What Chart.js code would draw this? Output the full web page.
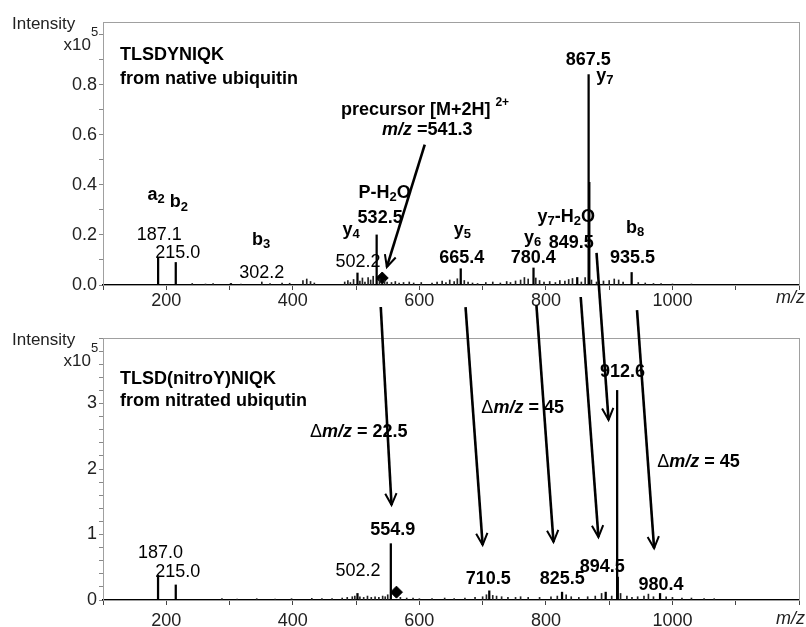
<!DOCTYPE html>
<html>
<head>
<meta charset="utf-8">
<script src="https://cdn.jsdelivr.net/npm/chart.js@4.4.1/dist/chart.umd.min.js"></script>
<style>
  body { margin: 0; background: #fff; }
  #wrap { position: relative; width: 806px; height: 627px; }
  #wrap canvas { position: absolute; left: 0; top: 0; }
</style>
</head>
<body>
<div id="wrap">
  <canvas id="spec-native" width="806" height="627"></canvas>
  <canvas id="spec-nitro" width="806" height="627"></canvas>
</div>
<script>
// m/z , intensity (x10^5)
const nativePeaks = [[187.1, 0.11], [215.0, 0.09], [302.2, 0.006], [502.2, 0.048], [532.5, 0.20],
  [665.4, 0.065], [780.4, 0.068], [849.5, 0.03], [867.5, 0.84], [868.6, 0.41], [935.5, 0.05]];
const nativeNoise = [[241, 0.006], [262, 0.004], [274, 0.006], [318, 0.004], [351, 0.012], [364, 0.006],
  [383, 0.008], [395, 0.007], [416, 0.018], [422, 0.024], [428, 0.014], [434, 0.008], [482, 0.012],
  [487, 0.018], [491, 0.010], [496, 0.022], [506, 0.016], [510, 0.028], [514, 0.012], [519, 0.03],
  [523, 0.02], [527, 0.035], [537, 0.025], [545, 0.018], [549, 0.012], [556, 0.01], [562, 0.014],
  [568, 0.008], [575, 0.01], [584, 0.012], [591, 0.008], [603, 0.01], [620, 0.008], [628, 0.012],
  [636, 0.016], [642, 0.01], [648, 0.02], [655, 0.014], [660, 0.025], [671, 0.018], [677, 0.012],
  [684, 0.008], [692, 0.006], [705, 0.01], [716, 0.012], [728, 0.008], [738, 0.014], [744, 0.01],
  [752, 0.016], [760, 0.02], [766, 0.03], [772, 0.024], [784, 0.028], [790, 0.018], [797, 0.012],
  [806, 0.014], [815, 0.01], [822, 0.018], [830, 0.016], [836, 0.022], [842, 0.026], [856, 0.012],
  [862, 0.03], [872, 0.02], [880, 0.012], [891, 0.016], [900, 0.018], [908, 0.024], [915, 0.02],
  [922, 0.012], [946, 0.01], [957, 0.008], [970, 0.006], [982, 0.006], [1000, 0.004], [1030, 0.004]];
const nativePrecursor = [541.3, 0.028];

const nitroPeaks = [[187.0, 0.38], [215.0, 0.23], [502.2, 0.10], [554.9, 0.86], [710.5, 0.14],
  [825.5, 0.12], [894.5, 0.12], [912.6, 3.2], [913.6, 0.35], [980.4, 0.10]];
const nitroNoise = [[288, 0.02], [312, 0.015], [343, 0.02], [372, 0.015], [398, 0.02], [430, 0.025],
  [446, 0.02], [462, 0.02], [478, 0.03], [486, 0.04], [494, 0.05], [498, 0.06], [506, 0.05], [512, 0.04],
  [518, 0.06], [524, 0.04], [530, 0.05], [536, 0.04], [542, 0.06], [546, 0.05], [550, 0.08], [570, 0.04],
  [580, 0.03], [590, 0.03], [600, 0.02], [620, 0.02], [640, 0.03], [655, 0.02], [672, 0.03], [688, 0.04],
  [700, 0.05], [706, 0.08], [716, 0.07], [722, 0.06], [730, 0.05], [740, 0.04], [752, 0.04], [760, 0.05],
  [772, 0.04], [790, 0.04], [808, 0.05], [818, 0.06], [832, 0.08], [840, 0.05], [852, 0.04], [866, 0.05],
  [878, 0.06], [888, 0.1], [904, 0.06], [918, 0.1], [928, 0.06], [936, 0.04], [945, 0.05], [955, 0.06],
  [962, 0.09], [970, 0.05], [990, 0.05], [1000, 0.04], [1015, 0.03], [1030, 0.03], [1050, 0.02], [1066, 0.02]];
const nitroPrecursor = [563.8, 0.12];

// tick labels
const mzTickLabels = [200, 400, 600, 800, 1000];
const nativeYLabels = ['0.0', '0.2', '0.4', '0.6', '0.8'];
const nitroYLabels = ['0', '1', '2', '3'];

// annotations: text (_ sub, ^ sup, * italic, # regular), m/z, intensity, align
const nativeNotes = [
  ['TLSDYNIQK', 127, 0.92, 'left'], ['from native ubiquitin', 127, 0.824, 'left'],
  ['precursor [M+2H] ^2+', 476, 0.70, 'left'], ['*m/z* =541.3', 541, 0.62, 'left'],
  ['867.5', 867, 0.90], ['y_7', 893, 0.836], ['a_2', 184, 0.36], ['b_2', 220, 0.33],
  ['#187.1', 189, 0.20], ['#215.0', 218, 0.128], ['b_3', 350, 0.18], ['#302.2', 351, 0.048],
  ['y_4', 492, 0.22], ['532.5', 538, 0.268], ['#502.2', 503, 0.092], ['P-H_2O', 545, 0.368],
  ['y_5', 668, 0.22], ['665.4', 667, 0.108], ['y_6', 779, 0.188], ['849.5', 840, 0.168],
  ['780.4', 780, 0.108], ['y_7-H_2O', 832, 0.272], ['b_8', 941, 0.228], ['935.5', 937, 0.108]
];
const nitroNotes = [
  ['TLSD(nitroY)NIQK', 127, 3.37, 'left'], ['from nitrated ubiqutin', 127, 3.04, 'left'],
  ['#Δ#*m/z* = 22.5', 427, 2.56, 'left'], ['#Δ#*m/z* = 45', 698, 2.93, 'left'],
  ['#Δ#*m/z* = 45', 976, 2.11, 'left'], ['912.6', 921, 3.48], ['554.9', 558, 1.07],
  ['#187.0', 191, 0.72], ['#215.0', 218, 0.43], ['#502.2', 503, 0.44], ['710.5', 709, 0.32],
  ['825.5', 826, 0.32], ['894.5', 889, 0.50], ['980.4', 982, 0.23]
];

// arrows: panel, m/z, intensity -> panel, m/z, intensity
const arrows = [
  ['n', 608.5, 0.56, 'n', 548.6, 0.072],
  ['n', 539, -0.088, 'x', 556, 1.45],
  ['n', 673, -0.088, 'x', 700, 0.84],
  ['n', 785, -0.08, 'x', 812, 0.885],
  ['n', 855, -0.048, 'x', 883, 0.96],
  ['n', 880, 0.128, 'x', 899, 2.75],
  ['n', 944, -0.1, 'x', 971, 0.79]
];

const FAM = '"Liberation Sans", Arial, Helvetica, sans-serif';
const toXY = arr => arr.map(p => ({ x: p[0], y: p[1] }));

function parseRich(str) {
  const out = [];
  let bold = true, ital = false, buf = '';
  const flush = () => { if (buf) { out.push({ t: buf, bold, ital, mode: 'n' }); buf = ''; } };
  for (let i = 0; i < str.length; i++) {
    const c = str[i];
    if (c === '_') { flush(); out.push({ t: str[i + 1], bold, ital, mode: 'sub' }); i++; }
    else if (c === '^') { flush(); out.push({ t: str.slice(i + 1), bold, ital, mode: 'sup' }); break; }
    else if (c === '*') { flush(); ital = !ital; }
    else if (c === '#') { flush(); bold = !bold; }
    else buf += c;
  }
  flush();
  return out;
}

function fontOf(p) {
  const size = p.mode === 'n' ? 18 : (p.mode === 'sub' ? 13 : 12);
  return (p.ital ? 'italic ' : '') + (p.bold ? 'bold ' : '') + size + 'px ' + FAM;
}

function drawRich(ctx, str, x, y, align) {
  const parts = parseRich(str);
  let w = 0;
  parts.forEach(p => { ctx.font = fontOf(p); p.w = ctx.measureText(p.t).width; w += p.w; });
  let cx = align === 'left' ? x : x - w / 2;
  ctx.textAlign = 'left';
  ctx.textBaseline = 'middle';
  ctx.fillStyle = '#000';
  parts.forEach(p => {
    ctx.font = fontOf(p);
    const dy = p.mode === 'sub' ? 5 : (p.mode === 'sup' ? -7 : 0);
    ctx.fillText(p.t, cx, y + dy);
    cx += p.w;
  });
}

function drawArrow(ctx, x0, y0, x1, y1) {
  const a = Math.atan2(y1 - y0, x1 - x0);
  const len = 13, spread = 0.45;
  ctx.save();
  ctx.strokeStyle = '#000';
  ctx.lineWidth = 2.6;
  ctx.lineCap = 'butt';
  ctx.beginPath();
  ctx.moveTo(x0, y0);
  ctx.lineTo(x1, y1);
  ctx.stroke();
  ctx.lineWidth = 2;
  ctx.beginPath();
  ctx.moveTo(x1 - len * Math.cos(a - spread), y1 - len * Math.sin(a - spread));
  ctx.lineTo(x1, y1);
  ctx.lineTo(x1 - len * Math.cos(a + spread), y1 - len * Math.sin(a + spread));
  ctx.stroke();
  ctx.restore();
}

function panelDecor(notes, mzLabelDy) {
  return {
    id: 'decor',
    beforeDatasetsDraw(chart) {
      const { ctx, chartArea: a } = chart;
      ctx.save();
      ctx.strokeStyle = '#a0a0a0';
      ctx.lineWidth = 1;
      ctx.strokeRect(a.left + 0.5, a.top + 0.5, a.right - a.left, a.bottom - a.top);
      ctx.restore();
    },
    afterDatasetsDraw(chart) {
      const { ctx, chartArea: a, scales } = chart;
      ctx.save();
      notes.forEach(n => drawRich(ctx, n[0], scales.x.getPixelForValue(n[1]), scales.y.getPixelForValue(n[2]), n[3]));
      // axis titles
      ctx.fillStyle = '#222';
      ctx.textBaseline = 'middle';
      ctx.font = '17px ' + FAM;
      ctx.textAlign = 'left';
      ctx.fillText('Intensity', 12, a.top + 2);
      ctx.textAlign = 'right';
      ctx.fillText('x10', 91, a.top + 23);
      ctx.font = '13px ' + FAM;
      ctx.textAlign = 'left';
      ctx.fillText('5', 91, a.top + 10);
      ctx.font = 'italic 18px ' + FAM;
      ctx.fillText('m/z', scales.x.getPixelForValue(1200) - 23, a.bottom + mzLabelDy);
      ctx.restore();
    }
  };
}

function spectrumConfig(peaks, noise, precursor, yMax, yStep, yLabels, notes, pad, xHeight, xPad, mzDy) {
  return {
    type: 'bar',
    data: {
      datasets: [
        { data: toXY(noise), backgroundColor: '#222', barThickness: 1, grouped: false },
        { data: toXY(peaks), backgroundColor: '#000', barThickness: 1.6, grouped: false },
        {
          type: 'line', data: toXY([precursor]), showLine: false,
          pointStyle: 'rectRot', pointRadius: 6, backgroundColor: '#000', borderColor: '#000'
        }
      ]
    },
    options: {
      responsive: false,
      animation: false,
      events: [],
      layout: { padding: pad },
      plugins: { legend: { display: false }, tooltip: { enabled: false } },
      scales: {
        x: {
          type: 'linear', min: 100, max: 1200, offset: false,
          afterFit: s => { s.height = xHeight; },
          grid: { drawOnChartArea: false, tickLength: 5, color: '#444', offset: false },
          border: { color: '#000', width: 1.5 },
          ticks: {
            stepSize: 100, autoSkip: false, maxRotation: 0, padding: xPad, color: '#222',
            font: { family: FAM, size: 18 },
            callback: v => mzTickLabels.includes(v) ? String(v) : ''
          }
        },
        y: {
          min: 0, max: yMax,
          afterFit: s => { s.width = 103; },
          grid: { drawOnChartArea: false, tickLength: 4, color: '#888' },
          border: { color: '#a0a0a0' },
          ticks: {
            stepSize: yStep, autoSkip: false, includeBounds: false, padding: 2, color: '#222',
            font: { family: FAM, size: 18 },
            callback: v => {
              const i = yLabels.findIndex(l => Math.abs(parseFloat(l) - v) < 1e-6);
              return i >= 0 ? yLabels[i] : '';
            }
          }
        }
      }
    },
    plugins: [panelDecor(notes, mzDy)]
  };
}

const nativeChart = new Chart(document.getElementById('spec-native'),
  spectrumConfig(nativePeaks, nativeNoise, nativePrecursor, 1.05, 0.1, nativeYLabels, nativeNotes,
    { left: 0, right: 6, top: 22, bottom: 312 }, 30, 0, 13));

const arrowLayer = {
  id: 'arrows',
  afterDraw(chart) {
    const panels = { n: nativeChart.scales, x: chart.scales };
    arrows.forEach(r => {
      const a = panels[r[0]], b = panels[r[3]];
      drawArrow(chart.ctx,
        a.x.getPixelForValue(r[1]), a.y.getPixelForValue(r[2]),
        b.x.getPixelForValue(r[4]), b.y.getPixelForValue(r[5]));
    });
  }
};

const nitroCfg = spectrumConfig(nitroPeaks, nitroNoise, nitroPrecursor, 4, 0.2, nitroYLabels, nitroNotes,
  { left: 0, right: 6, top: 338, bottom: 0 }, 27, 5, 19);
nitroCfg.plugins.push(arrowLayer);
const nitroChart = new Chart(document.getElementById('spec-nitro'), nitroCfg);
</script>
</body>
</html>
